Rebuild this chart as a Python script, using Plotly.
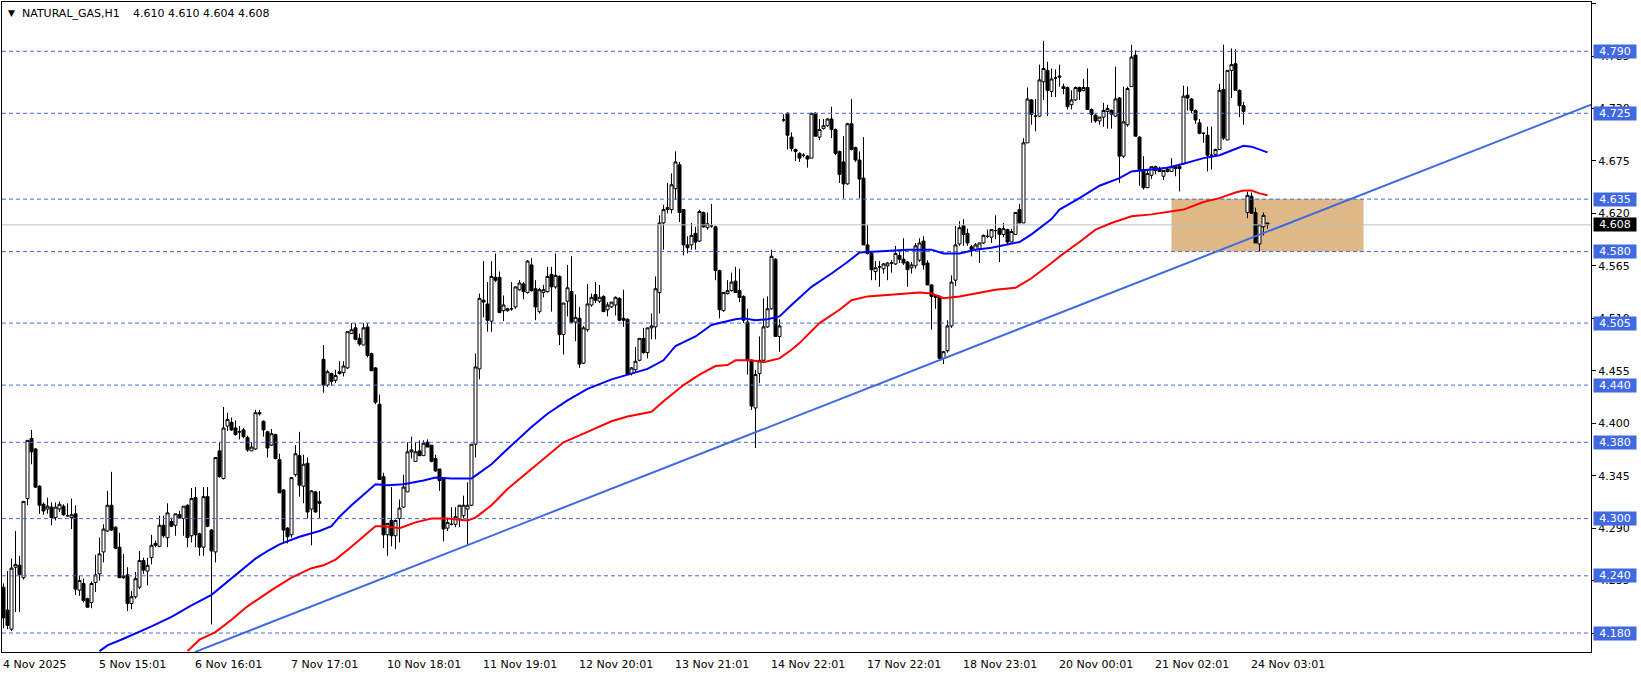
import plotly.graph_objects as go

# ---------------- data ----------------
open_ = [
 4.228, 4.204, 4.184, 4.249, 4.251, 4.238, 4.321, 4.384, 4.373, 4.334,
 4.315, 4.310, 4.312, 4.301, 4.310, 4.313, 4.303, 4.301, 4.305, 4.225,
 4.232, 4.216, 4.212, 4.233, 4.242, 4.265, 4.287, 4.314, 4.291, 4.270,
 4.240, 4.241, 4.211, 4.218, 4.228, 4.256, 4.245, 4.259, 4.274, 4.271,
 4.293, 4.280, 4.297, 4.293, 4.304, 4.300, 4.314, 4.282, 4.322, 4.284,
 4.270, 4.323, 4.288, 4.265, 4.371, 4.342, 4.397, 4.401, 4.395, 4.391,
 4.393, 4.385, 4.371, 4.373, 4.411, 4.402, 4.391, 4.377, 4.388, 4.362,
 4.330, 4.290, 4.283, 4.346, 4.366, 4.334, 4.358, 4.310, 4.328, 4.318,
 4.467, 4.440, 4.452, 4.445, 4.454, 4.453, 4.458, 4.494, 4.500, 4.489,
 4.482, 4.501, 4.473, 4.458, 4.420, 4.344, 4.283, 4.298, 4.282, 4.300,
 4.312, 4.328, 4.370, 4.360, 4.371, 4.366, 4.380, 4.377, 4.363, 4.352,
 4.343, 4.290, 4.294, 4.294, 4.300, 4.303, 4.310, 4.314, 4.378, 4.457,
 4.529, 4.525, 4.507, 4.553, 4.553, 4.518, 4.518, 4.520, 4.522, 4.540,
 4.546, 4.537, 4.566, 4.541, 4.517, 4.537, 4.538, 4.556, 4.543, 4.554,
 4.493, 4.528, 4.538, 4.506, 4.510, 4.463, 4.498, 4.524, 4.535, 4.528,
 4.533, 4.519, 4.522, 4.524, 4.531, 4.510, 4.509, 4.452, 4.456, 4.466,
 4.489, 4.474, 4.500, 4.501, 4.537, 4.610, 4.624, 4.624, 4.646, 4.671,
 4.624, 4.587, 4.587, 4.599, 4.591, 4.621, 4.605, 4.607, 4.606, 4.560,
 4.518, 4.536, 4.539, 4.549, 4.539, 4.533, 4.506, 4.466, 4.416, 4.452,
 4.466, 4.501, 4.520, 4.572, 4.491, 4.718, 4.725, 4.700, 4.687, 4.683,
 4.681, 4.680, 4.678, 4.725, 4.700, 4.709, 4.712, 4.719, 4.708, 4.685,
 4.674, 4.651, 4.714, 4.689, 4.676, 4.657, 4.587, 4.578, 4.559, 4.564,
 4.562, 4.565, 4.568, 4.567, 4.576, 4.572, 4.569, 4.563, 4.565, 4.571,
 4.591, 4.568, 4.545, 4.534, 4.533, 4.468, 4.476, 4.502, 4.550, 4.588,
 4.607, 4.599, 4.585, 4.582, 4.583, 4.589, 4.596, 4.595, 4.602, 4.604,
 4.598, 4.603, 4.590, 4.598, 4.624, 4.610, 4.694, 4.739, 4.722, 4.722,
 4.758, 4.770, 4.748, 4.762, 4.764, 4.751, 4.752, 4.734, 4.739, 4.752,
 4.749, 4.752, 4.729, 4.723, 4.717, 4.721, 4.727, 4.728, 4.722, 4.741,
 4.680, 4.713, 4.753, 4.786, 4.700, 4.666, 4.647, 4.660, 4.665, 4.667,
 4.659, 4.664, 4.664, 4.669, 4.669, 4.672, 4.744, 4.740, 4.728, 4.715,
 4.704, 4.702, 4.681, 4.682, 4.687, 4.750, 4.697, 4.770, 4.777, 4.749,
 4.733, 4.621, 4.638, 4.621, 4.588, 4.606, 4.610,
]
high = [
 4.232, 4.245, 4.258, 4.287, 4.261, 4.318, 4.382, 4.393, 4.374, 4.335,
 4.317, 4.322, 4.317, 4.317, 4.318, 4.315, 4.316, 4.321, 4.314, 4.240,
 4.237, 4.217, 4.234, 4.262, 4.280, 4.294, 4.329, 4.349, 4.292, 4.285,
 4.263, 4.249, 4.224, 4.244, 4.266, 4.259, 4.259, 4.283, 4.277, 4.303,
 4.303, 4.316, 4.301, 4.305, 4.308, 4.313, 4.315, 4.332, 4.333, 4.285,
 4.333, 4.333, 4.289, 4.364, 4.380, 4.417, 4.411, 4.406, 4.403, 4.397,
 4.395, 4.387, 4.380, 4.414, 4.414, 4.403, 4.392, 4.394, 4.389, 4.368,
 4.331, 4.291, 4.343, 4.377, 4.391, 4.367, 4.364, 4.330, 4.329, 4.329,
 4.482, 4.456, 4.453, 4.456, 4.465, 4.465, 4.496, 4.505, 4.505, 4.494,
 4.505, 4.505, 4.474, 4.459, 4.430, 4.348, 4.295, 4.333, 4.299, 4.320,
 4.346, 4.380, 4.386, 4.380, 4.382, 4.382, 4.383, 4.377, 4.367, 4.352,
 4.343, 4.300, 4.312, 4.312, 4.314, 4.324, 4.338, 4.378, 4.473, 4.536,
 4.570, 4.548, 4.570, 4.578, 4.559, 4.534, 4.521, 4.548, 4.543, 4.550,
 4.548, 4.571, 4.573, 4.550, 4.542, 4.545, 4.564, 4.564, 4.578, 4.555,
 4.526, 4.566, 4.575, 4.535, 4.522, 4.502, 4.546, 4.536, 4.548, 4.545,
 4.534, 4.527, 4.527, 4.533, 4.532, 4.540, 4.510, 4.459, 4.480, 4.489,
 4.500, 4.500, 4.515, 4.554, 4.618, 4.629, 4.652, 4.662, 4.685, 4.674,
 4.624, 4.596, 4.610, 4.606, 4.624, 4.622, 4.621, 4.630, 4.607, 4.561,
 4.537, 4.550, 4.558, 4.564, 4.562, 4.534, 4.520, 4.467, 4.456, 4.491,
 4.531, 4.533, 4.582, 4.573, 4.509, 4.724, 4.726, 4.705, 4.688, 4.684,
 4.683, 4.681, 4.725, 4.726, 4.719, 4.719, 4.720, 4.732, 4.709, 4.686,
 4.701, 4.715, 4.740, 4.690, 4.685, 4.700, 4.608, 4.579, 4.570, 4.570,
 4.568, 4.569, 4.571, 4.586, 4.582, 4.594, 4.570, 4.569, 4.589, 4.594,
 4.596, 4.571, 4.546, 4.535, 4.534, 4.476, 4.508, 4.555, 4.607, 4.612,
 4.614, 4.604, 4.587, 4.589, 4.589, 4.598, 4.603, 4.603, 4.618, 4.605,
 4.610, 4.604, 4.604, 4.621, 4.630, 4.699, 4.752, 4.740, 4.740, 4.776,
 4.801, 4.779, 4.772, 4.771, 4.776, 4.756, 4.753, 4.749, 4.753, 4.753,
 4.761, 4.772, 4.730, 4.724, 4.721, 4.736, 4.734, 4.729, 4.774, 4.742,
 4.753, 4.753, 4.797, 4.791, 4.701, 4.680, 4.666, 4.669, 4.670, 4.669,
 4.665, 4.669, 4.678, 4.670, 4.672, 4.754, 4.753, 4.741, 4.729, 4.719,
 4.705, 4.711, 4.711, 4.688, 4.756, 4.797, 4.770, 4.793, 4.792, 4.750,
 4.737, 4.643, 4.642, 4.626, 4.608, 4.621, 4.610,
]
low = [
 4.185, 4.184, 4.182, 4.202, 4.202, 4.236, 4.314, 4.357, 4.332, 4.305,
 4.304, 4.305, 4.293, 4.298, 4.307, 4.303, 4.302, 4.289, 4.220, 4.219,
 4.212, 4.207, 4.206, 4.223, 4.235, 4.254, 4.286, 4.287, 4.268, 4.238,
 4.237, 4.203, 4.205, 4.216, 4.226, 4.242, 4.230, 4.252, 4.270, 4.270,
 4.280, 4.270, 4.291, 4.282, 4.300, 4.282, 4.270, 4.275, 4.270, 4.261,
 4.261, 4.291, 4.189, 4.254, 4.343, 4.341, 4.392, 4.392, 4.387, 4.383,
 4.384, 4.370, 4.371, 4.372, 4.408, 4.386, 4.364, 4.376, 4.362, 4.327,
 4.275, 4.274, 4.280, 4.344, 4.323, 4.316, 4.300, 4.272, 4.306, 4.300,
 4.432, 4.438, 4.439, 4.442, 4.451, 4.449, 4.457, 4.494, 4.487, 4.481,
 4.482, 4.469, 4.455, 4.420, 4.341, 4.269, 4.261, 4.271, 4.268, 4.275,
 4.311, 4.328, 4.363, 4.360, 4.366, 4.366, 4.375, 4.359, 4.349, 4.329,
 4.276, 4.287, 4.293, 4.291, 4.291, 4.300, 4.273, 4.313, 4.364, 4.446,
 4.511, 4.496, 4.496, 4.548, 4.516, 4.507, 4.517, 4.518, 4.520, 4.539,
 4.530, 4.536, 4.538, 4.508, 4.515, 4.532, 4.537, 4.517, 4.541, 4.482,
 4.472, 4.512, 4.505, 4.486, 4.458, 4.462, 4.496, 4.522, 4.526, 4.526,
 4.517, 4.512, 4.521, 4.513, 4.507, 4.501, 4.451, 4.450, 4.453, 4.465,
 4.473, 4.468, 4.488, 4.488, 4.515, 4.582, 4.620, 4.620, 4.634, 4.611,
 4.576, 4.578, 4.582, 4.582, 4.590, 4.605, 4.603, 4.605, 4.550, 4.510,
 4.517, 4.535, 4.538, 4.537, 4.527, 4.505, 4.451, 4.414, 4.374, 4.442,
 4.465, 4.500, 4.519, 4.491, 4.475, 4.716, 4.687, 4.685, 4.675, 4.674,
 4.679, 4.668, 4.678, 4.701, 4.697, 4.708, 4.711, 4.699, 4.681, 4.652,
 4.636, 4.650, 4.686, 4.674, 4.636, 4.587, 4.577, 4.550, 4.550, 4.543,
 4.557, 4.550, 4.558, 4.566, 4.568, 4.566, 4.543, 4.557, 4.562, 4.569,
 4.561, 4.545, 4.498, 4.520, 4.466, 4.462, 4.474, 4.500, 4.544, 4.586,
 4.586, 4.586, 4.575, 4.580, 4.568, 4.588, 4.594, 4.589, 4.593, 4.569,
 4.595, 4.588, 4.590, 4.598, 4.610, 4.610, 4.694, 4.713, 4.706, 4.721,
 4.739, 4.722, 4.742, 4.742, 4.753, 4.745, 4.729, 4.729, 4.738, 4.739,
 4.748, 4.729, 4.715, 4.715, 4.713, 4.711, 4.709, 4.709, 4.721, 4.652,
 4.678, 4.711, 4.753, 4.701, 4.649, 4.645, 4.647, 4.656, 4.661, 4.664,
 4.655, 4.663, 4.664, 4.659, 4.643, 4.671, 4.728, 4.725, 4.714, 4.703,
 4.694, 4.664, 4.666, 4.681, 4.687, 4.697, 4.697, 4.741, 4.749, 4.721,
 4.713, 4.615, 4.620, 4.589, 4.580, 4.597, 4.604,
]
close = [
 4.196, 4.188, 4.248, 4.252, 4.241, 4.318, 4.382, 4.370, 4.333, 4.314,
 4.308, 4.313, 4.301, 4.312, 4.315, 4.304, 4.303, 4.304, 4.226, 4.235,
 4.214, 4.207, 4.232, 4.241, 4.263, 4.289, 4.314, 4.288, 4.269, 4.238,
 4.238, 4.211, 4.218, 4.237, 4.256, 4.246, 4.251, 4.272, 4.272, 4.293,
 4.282, 4.306, 4.292, 4.305, 4.301, 4.313, 4.280, 4.321, 4.283, 4.270,
 4.323, 4.292, 4.266, 4.364, 4.344, 4.395, 4.404, 4.393, 4.388, 4.391,
 4.386, 4.372, 4.375, 4.411, 4.410, 4.393, 4.374, 4.389, 4.363, 4.327,
 4.288, 4.281, 4.343, 4.368, 4.335, 4.357, 4.307, 4.329, 4.307, 4.316,
 4.440, 4.454, 4.444, 4.450, 4.452, 4.460, 4.496, 4.498, 4.488, 4.483,
 4.500, 4.471, 4.455, 4.422, 4.341, 4.283, 4.295, 4.282, 4.298, 4.311,
 4.333, 4.370, 4.372, 4.370, 4.366, 4.379, 4.375, 4.360, 4.350, 4.340,
 4.289, 4.296, 4.294, 4.302, 4.314, 4.314, 4.314, 4.378, 4.459, 4.531,
 4.527, 4.508, 4.554, 4.550, 4.516, 4.524, 4.520, 4.520, 4.543, 4.547,
 4.538, 4.570, 4.539, 4.522, 4.540, 4.540, 4.554, 4.543, 4.555, 4.493,
 4.526, 4.542, 4.506, 4.511, 4.462, 4.500, 4.525, 4.532, 4.529, 4.532,
 4.517, 4.524, 4.527, 4.532, 4.508, 4.508, 4.451, 4.458, 4.465, 4.489,
 4.474, 4.500, 4.502, 4.541, 4.610, 4.624, 4.626, 4.650, 4.674, 4.621,
 4.587, 4.584, 4.597, 4.590, 4.622, 4.606, 4.609, 4.607, 4.560, 4.519,
 4.537, 4.539, 4.548, 4.537, 4.532, 4.508, 4.466, 4.418, 4.451, 4.466,
 4.501, 4.520, 4.575, 4.491, 4.502, 4.718, 4.702, 4.688, 4.685, 4.678,
 4.681, 4.677, 4.725, 4.701, 4.708, 4.712, 4.719, 4.708, 4.683, 4.661,
 4.651, 4.714, 4.687, 4.676, 4.656, 4.587, 4.578, 4.561, 4.563, 4.564,
 4.567, 4.568, 4.568, 4.578, 4.572, 4.568, 4.561, 4.566, 4.586, 4.589,
 4.566, 4.545, 4.533, 4.532, 4.468, 4.475, 4.502, 4.548, 4.587, 4.605,
 4.598, 4.589, 4.582, 4.587, 4.589, 4.597, 4.596, 4.603, 4.602, 4.598,
 4.604, 4.590, 4.601, 4.621, 4.610, 4.694, 4.740, 4.724, 4.722, 4.760,
 4.772, 4.749, 4.761, 4.762, 4.763, 4.753, 4.732, 4.739, 4.752, 4.748,
 4.752, 4.729, 4.724, 4.717, 4.721, 4.728, 4.730, 4.724, 4.740, 4.680,
 4.716, 4.751, 4.784, 4.701, 4.666, 4.647, 4.662, 4.669, 4.669, 4.664,
 4.665, 4.666, 4.669, 4.667, 4.667, 4.743, 4.741, 4.728, 4.718, 4.704,
 4.704, 4.681, 4.681, 4.687, 4.749, 4.699, 4.770, 4.776, 4.749, 4.733,
 4.727, 4.639, 4.620, 4.589, 4.608, 4.618, 4.608,
]
assert len(open_) == len(high) == len(low) == len(close)
bars = list(range(len(close)))

# moving averages (sampled along the chart)
blue_x = [24, 26, 30, 34, 37, 42, 47, 52, 54, 59, 63, 66, 69, 74, 79, 82, 84, 87, 91, 93,
          96, 100, 105, 108, 112, 117, 118, 122, 126, 132, 136, 141, 146, 152, 157, 161, 165, 168, 173, 177,
          179, 183, 185, 188, 191, 194, 197, 202, 207, 211, 214, 218, 222, 226, 232, 235, 239, 243, 247, 252,
          254, 257, 262, 264, 269, 274, 279, 282, 286, 291, 295, 300, 304, 307, 310, 312, 314, 316]
blue_y = [4.161, 4.167, 4.174, 4.181, 4.187, 4.197, 4.209, 4.220, 4.227, 4.244, 4.258, 4.266, 4.273, 4.281, 4.287, 4.292, 4.302, 4.314, 4.328, 4.336,
          4.335, 4.336, 4.340, 4.343, 4.342, 4.342, 4.345, 4.357, 4.373, 4.396, 4.410, 4.424, 4.436, 4.446, 4.452, 4.457, 4.466, 4.481, 4.491, 4.503,
          4.505, 4.509, 4.510, 4.508, 4.509, 4.512, 4.524, 4.543, 4.557, 4.569, 4.579, 4.580, 4.581, 4.582, 4.582, 4.578, 4.578, 4.582, 4.584, 4.588,
          4.590, 4.598, 4.614, 4.624, 4.636, 4.649, 4.657, 4.664, 4.666, 4.668, 4.672, 4.678, 4.681, 4.686, 4.691, 4.690, 4.687, 4.684]
red_x = [46, 49, 53, 57, 61, 67, 72, 77, 80, 83, 86, 89, 93, 95, 99, 103, 107, 111, 116, 118,
         122, 126, 132, 140, 146, 152, 156, 162, 165, 170, 174, 178, 181, 183, 187, 190, 194, 197, 199, 204,
         209, 212, 216, 219, 224, 229, 232, 235, 239, 243, 248, 253, 257, 262, 265, 269, 273, 277, 282, 287,
         292, 295, 300, 304, 308, 310, 312, 314, 316]
red_y = [4.161, 4.173, 4.181, 4.194, 4.208, 4.225, 4.238, 4.248, 4.251, 4.257, 4.267, 4.278, 4.292, 4.292, 4.290, 4.296, 4.300, 4.300, 4.298, 4.301,
         4.314, 4.331, 4.352, 4.380, 4.391, 4.402, 4.407, 4.412, 4.423, 4.440, 4.451, 4.460, 4.461, 4.466, 4.466, 4.464, 4.468, 4.477, 4.484, 4.505,
         4.519, 4.529, 4.533, 4.534, 4.535, 4.537, 4.536, 4.531, 4.533, 4.536, 4.540, 4.542, 4.552, 4.568, 4.578, 4.590, 4.603, 4.610, 4.617, 4.619,
         4.622, 4.624, 4.632, 4.636, 4.642, 4.644, 4.644, 4.641, 4.639]

# trend line anchors (bar index, price)
trend_x = [47.8, 396.9]
trend_y = [4.160, 4.734]

# horizontal levels, bid line, shaded zone
levels = [4.790, 4.725, 4.635, 4.580, 4.505, 4.440, 4.380, 4.300, 4.240, 4.180]
bid = 4.608
zone_x = [292, 340]
zone_y = [4.580, 4.635]

# axes
price_ticks = [4.840, 4.785, 4.730, 4.675, 4.620, 4.565, 4.510, 4.455, 4.400, 4.345, 4.290, 4.235, 4.180]
date_pos = [0, 24, 48, 72, 96, 120, 144, 168, 192, 216, 240, 264, 288, 312]
date_labels = ["4 Nov 2025", "5 Nov 15:01", "6 Nov 16:01", "7 Nov 17:01", "10 Nov 18:01",
               "11 Nov 19:01", "12 Nov 20:01", "13 Nov 21:01", "14 Nov 22:01", "17 Nov 22:01",
               "18 Nov 23:01", "20 Nov 00:01", "21 Nov 02:01", "24 Nov 03:01"]

# ---------------- figure ----------------
W, H = 1641, 677
ML, MR, MT, MB = 2, 50, 2, 25
XR = [-0.375, 396.875]
YR = [4.1601, 4.8417]
FONT = "DejaVu Sans"
LEVEL_BLUE = "#4169E1"

fig = go.Figure()

# level dashed lines
lx, ly = [], []
for v in levels:
    lx += [XR[0], XR[1], None]
    ly += [v, v, None]
fig.add_trace(go.Scatter(x=lx, y=ly, mode="lines", hoverinfo="skip",
                         line=dict(color=LEVEL_BLUE, width=1, dash="4px,3px")))
# bid line
fig.add_trace(go.Scatter(x=XR, y=[bid, bid], mode="lines", hoverinfo="skip",
                         line=dict(color="#C0C0C0", width=1)))

# candles
fig.add_trace(go.Candlestick(
    x=bars, open=open_, high=high, low=low, close=close,
    increasing=dict(line=dict(color="black", width=1), fillcolor="white"),
    decreasing=dict(line=dict(color="black", width=1), fillcolor="black"),
    whiskerwidth=0, hoverinfo="skip"))

# moving averages
fig.add_trace(go.Scatter(x=blue_x, y=blue_y, mode="lines", hoverinfo="skip",
                         line=dict(color="#0000FF", width=2)))
fig.add_trace(go.Scatter(x=red_x, y=red_y, mode="lines", hoverinfo="skip",
                         line=dict(color="#FF0000", width=2)))
# trend line
fig.add_trace(go.Scatter(x=trend_x, y=trend_y, mode="lines", hoverinfo="skip",
                         line=dict(color=LEVEL_BLUE, width=2)))

# zone rectangle
fig.add_shape(type="rect", xref="x", yref="y", x0=zone_x[0], x1=zone_x[1],
              y0=zone_y[0], y1=zone_y[1], fillcolor="#DEB887", line=dict(width=0), layer="below")

annotations = []
plot_w = W - ML - MR
plot_h = H - MT - MB
def px_to_paper_x(px):
    return (px - ML) / plot_w
def py_to_paper_y(py):
    return (H - MB - py) / plot_h
def bar_to_px(b):
    return 3.5 + 4 * b

# right price-level labels
for v in levels:
    annotations.append(dict(xref="paper", yref="y", x=px_to_paper_x(1593), y=v,
                            xanchor="left", yanchor="middle", text=f"{v:.3f}", showarrow=False,
                            font=dict(family=FONT, size=11, color="white"),
                            bgcolor=LEVEL_BLUE, width=42, height=13, borderpad=0, align="center"))
annotations.append(dict(xref="paper", yref="y", x=px_to_paper_x(1593), y=bid,
                        xanchor="left", yanchor="middle", text=f"{bid:.3f}", showarrow=False,
                        font=dict(family=FONT, size=11, color="white"),
                        bgcolor="black", width=42, height=13, borderpad=0, align="center"))

# date labels
for p, t in zip(date_pos, date_labels):
    annotations.append(dict(xref="paper", yref="paper", x=px_to_paper_x(bar_to_px(p) - 1.5),
                            y=py_to_paper_y(664), xanchor="left", yanchor="middle", text=t,
                            showarrow=False, borderpad=0,
                            font=dict(family=FONT, size=11, color="black")))

# title
annotations.append(dict(xref="paper", yref="paper", x=px_to_paper_x(6), y=py_to_paper_y(13),
                        xanchor="left", yanchor="middle", text="▼", showarrow=False,
                        font=dict(family=FONT, size=9, color="black")))
annotations.append(dict(xref="paper", yref="paper", x=px_to_paper_x(20), y=py_to_paper_y(13),
                        xanchor="left", yanchor="middle", text="NATURAL_GAS,H1", showarrow=False,
                        font=dict(family=FONT, size=11, color="black")))
annotations.append(dict(xref="paper", yref="paper", x=px_to_paper_x(131), y=py_to_paper_y(13),
                        xanchor="left", yanchor="middle", text="4.610 4.610 4.604 4.608", showarrow=False,
                        font=dict(family=FONT, size=11, color="black")))

fig.update_layout(
    width=W, height=H, margin=dict(l=ML, r=MR, t=MT, b=MB),
    paper_bgcolor="white", plot_bgcolor="white", showlegend=False,
    boxgap=0.25, boxgroupgap=0,
    annotations=annotations,
    xaxis=dict(range=XR, showgrid=False, zeroline=False, showticklabels=False,
               showline=True, mirror=True, linecolor="black", linewidth=1,
               rangeslider=dict(visible=False), ticks=""),
    yaxis=dict(range=YR, side="right", showgrid=False, zeroline=False, automargin=False,
               tickvals=price_ticks, ticktext=[f"{v:.3f}" for v in price_ticks],
               ticks="outside", ticklen=4, tickwidth=1, tickcolor="black",
               tickfont=dict(family=FONT, size=11, color="black"),
               showline=True, mirror=True, linecolor="black", linewidth=1),
)

fig.write_html("out.html", config={"displayModeBar": False},
               post_script="document.body.style.margin='0';document.body.style.padding='0';")
